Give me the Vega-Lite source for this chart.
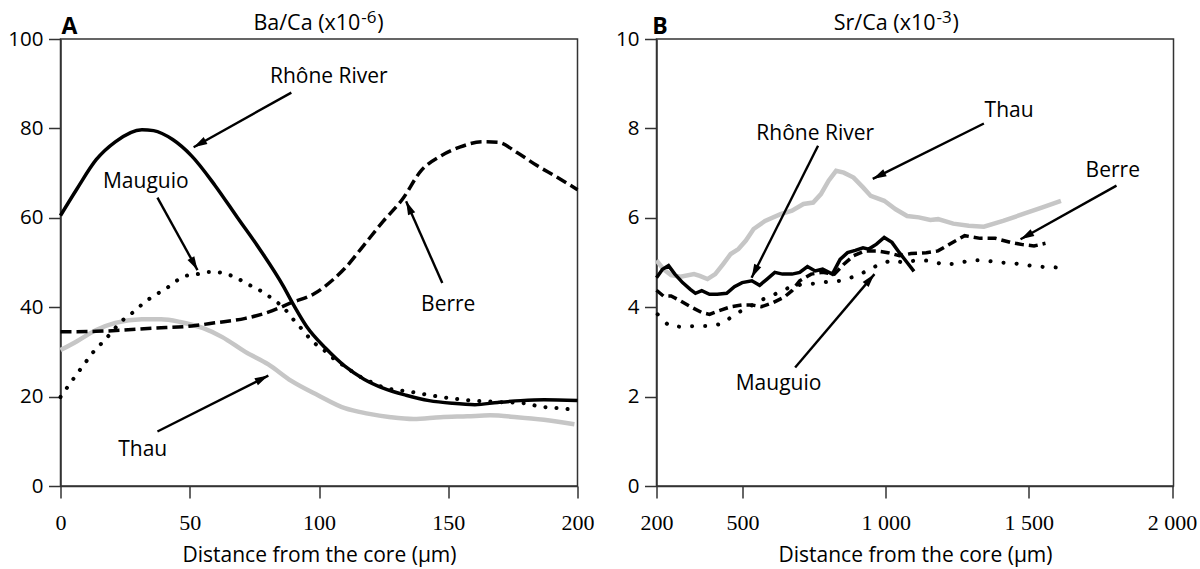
{
  "$schema": "https://vega.github.io/schema/vega-lite/v6.json",
  "padding": {"left": 6.5, "top": 8, "right": 2, "bottom": 2},
  "bounds": "flush",
  "spacing": 79,
  "datasets": {
    "ba": [
      {"series": "Rhône River", "x": 0, "y": 60.5}, {"series": "Rhône River", "x": 6.4, "y": 66.5}, {"series": "Rhône River", "x": 13.8, "y": 73}, {"series": "Rhône River", "x": 21.2, "y": 77}, {"series": "Rhône River", "x": 31.5, "y": 79.7}, {"series": "Rhône River", "x": 36, "y": 79.5}, {"series": "Rhône River", "x": 43.4, "y": 77.5}, {"series": "Rhône River", "x": 50.8, "y": 73.8}, {"series": "Rhône River", "x": 59.7, "y": 67.3}, {"series": "Rhône River", "x": 68.5, "y": 60}, {"series": "Rhône River", "x": 77.4, "y": 52.7}, {"series": "Rhône River", "x": 86.3, "y": 44.6}, {"series": "Rhône River", "x": 89.3, "y": 41.4}, {"series": "Rhône River", "x": 95.2, "y": 35.7}, {"series": "Rhône River", "x": 102.6, "y": 30.8}, {"series": "Rhône River", "x": 110, "y": 26.8}, {"series": "Rhône River", "x": 117.4, "y": 23.9}, {"series": "Rhône River", "x": 124.8, "y": 21.9}, {"series": "Rhône River", "x": 133.7, "y": 20.3}, {"series": "Rhône River", "x": 142.6, "y": 19.1}, {"series": "Rhône River", "x": 151.5, "y": 18.5}, {"series": "Rhône River", "x": 160.3, "y": 18.2}, {"series": "Rhône River", "x": 169.2, "y": 18.7}, {"series": "Rhône River", "x": 178, "y": 19.1}, {"series": "Rhône River", "x": 187, "y": 19.3}, {"series": "Rhône River", "x": 200, "y": 19.1},
      {"series": "Berre", "x": 0, "y": 34.5}, {"series": "Berre", "x": 13.8, "y": 34.6}, {"series": "Berre", "x": 36, "y": 35.3}, {"series": "Berre", "x": 50.8, "y": 35.8}, {"series": "Berre", "x": 59.7, "y": 36.5}, {"series": "Berre", "x": 71.5, "y": 37.5}, {"series": "Berre", "x": 80.4, "y": 38.9}, {"series": "Berre", "x": 89.3, "y": 41}, {"series": "Berre", "x": 98.1, "y": 43}, {"series": "Berre", "x": 105.5, "y": 46.2}, {"series": "Berre", "x": 110, "y": 48.7}, {"series": "Berre", "x": 117.4, "y": 53.9}, {"series": "Berre", "x": 124.8, "y": 59.2}, {"series": "Berre", "x": 132.2, "y": 64.1}, {"series": "Berre", "x": 139.6, "y": 70.6}, {"series": "Berre", "x": 147, "y": 73.8}, {"series": "Berre", "x": 154.4, "y": 75.8}, {"series": "Berre", "x": 163.3, "y": 77}, {"series": "Berre", "x": 169.2, "y": 76.9}, {"series": "Berre", "x": 176.6, "y": 74.6}, {"series": "Berre", "x": 184, "y": 71.8}, {"series": "Berre", "x": 191.4, "y": 69.3}, {"series": "Berre", "x": 200, "y": 66.3},
      {"series": "Mauguio", "x": 0, "y": 19.9}, {"series": "Mauguio", "x": 3.4, "y": 22.7}, {"series": "Mauguio", "x": 6.4, "y": 25.1}, {"series": "Mauguio", "x": 9.6, "y": 27.6}, {"series": "Mauguio", "x": 13, "y": 30.2}, {"series": "Mauguio", "x": 16.7, "y": 32.4}, {"series": "Mauguio", "x": 24.1, "y": 37.1}, {"series": "Mauguio", "x": 28.6, "y": 39.1}, {"series": "Mauguio", "x": 32.7, "y": 41.2}, {"series": "Mauguio", "x": 37.5, "y": 43}, {"series": "Mauguio", "x": 41.9, "y": 44.6}, {"series": "Mauguio", "x": 47.8, "y": 46.9}, {"series": "Mauguio", "x": 53, "y": 47.4}, {"series": "Mauguio", "x": 57.4, "y": 47.9}, {"series": "Mauguio", "x": 62.6, "y": 47.7}, {"series": "Mauguio", "x": 68.5, "y": 46.4}, {"series": "Mauguio", "x": 73, "y": 45}, {"series": "Mauguio", "x": 78.2, "y": 43.4}, {"series": "Mauguio", "x": 82.6, "y": 41.6}, {"series": "Mauguio", "x": 86.3, "y": 39.9}, {"series": "Mauguio", "x": 90, "y": 37.3}, {"series": "Mauguio", "x": 93.7, "y": 34.9}, {"series": "Mauguio", "x": 97.4, "y": 32.4}, {"series": "Mauguio", "x": 101.9, "y": 30.4}, {"series": "Mauguio", "x": 106.3, "y": 28.2}, {"series": "Mauguio", "x": 110.7, "y": 26.5}, {"series": "Mauguio", "x": 115.2, "y": 24.7}, {"series": "Mauguio", "x": 120, "y": 23.3}, {"series": "Mauguio", "x": 124.8, "y": 22.1}, {"series": "Mauguio", "x": 135.2, "y": 21.1}, {"series": "Mauguio", "x": 146.3, "y": 20}, {"series": "Mauguio", "x": 157.4, "y": 19.2}, {"series": "Mauguio", "x": 169.2, "y": 18.8}, {"series": "Mauguio", "x": 179.6, "y": 18.5}, {"series": "Mauguio", "x": 185.2, "y": 17.8}, {"series": "Mauguio", "x": 190.7, "y": 17.5}, {"series": "Mauguio", "x": 196.6, "y": 17.2},
      {"series": "Thau", "x": 0, "y": 30.4}, {"series": "Thau", "x": 6.4, "y": 32.4}, {"series": "Thau", "x": 13.8, "y": 34.9}, {"series": "Thau", "x": 21.2, "y": 36.5}, {"series": "Thau", "x": 31.5, "y": 37.3}, {"series": "Thau", "x": 38.9, "y": 37.3}, {"series": "Thau", "x": 46.3, "y": 36.7}, {"series": "Thau", "x": 55.2, "y": 35.3}, {"series": "Thau", "x": 62.6, "y": 33.3}, {"series": "Thau", "x": 71.5, "y": 30}, {"series": "Thau", "x": 80.4, "y": 27.2}, {"series": "Thau", "x": 89.3, "y": 23.5}, {"series": "Thau", "x": 99.6, "y": 20.3}, {"series": "Thau", "x": 110, "y": 17.4}, {"series": "Thau", "x": 118.9, "y": 16.2}, {"series": "Thau", "x": 127.8, "y": 15.4}, {"series": "Thau", "x": 136.6, "y": 15}, {"series": "Thau", "x": 147, "y": 15.4}, {"series": "Thau", "x": 157.4, "y": 15.6}, {"series": "Thau", "x": 166.2, "y": 15.8}, {"series": "Thau", "x": 176.6, "y": 15.4}, {"series": "Thau", "x": 187, "y": 14.8}, {"series": "Thau", "x": 198.8, "y": 13.8}
    ],
    "sr": [
      {"series": "Thau", "x": 200, "y": 5.05}, {"series": "Thau", "x": 224, "y": 4.85}, {"series": "Thau", "x": 251, "y": 4.72}, {"series": "Thau", "x": 284, "y": 4.68}, {"series": "Thau", "x": 331, "y": 4.74}, {"series": "Thau", "x": 351, "y": 4.7}, {"series": "Thau", "x": 378, "y": 4.63}, {"series": "Thau", "x": 405, "y": 4.74}, {"series": "Thau", "x": 432, "y": 4.96}, {"series": "Thau", "x": 459, "y": 5.19}, {"series": "Thau", "x": 486, "y": 5.3}, {"series": "Thau", "x": 512, "y": 5.49}, {"series": "Thau", "x": 539, "y": 5.75}, {"series": "Thau", "x": 579, "y": 5.93}, {"series": "Thau", "x": 633, "y": 6.08}, {"series": "Thau", "x": 673, "y": 6.16}, {"series": "Thau", "x": 713, "y": 6.31}, {"series": "Thau", "x": 747, "y": 6.34}, {"series": "Thau", "x": 774, "y": 6.53}, {"series": "Thau", "x": 801, "y": 6.83}, {"series": "Thau", "x": 827, "y": 7.05}, {"series": "Thau", "x": 854, "y": 7.01}, {"series": "Thau", "x": 888, "y": 6.9}, {"series": "Thau", "x": 921, "y": 6.68}, {"series": "Thau", "x": 948, "y": 6.49}, {"series": "Thau", "x": 995, "y": 6.38}, {"series": "Thau", "x": 1035, "y": 6.19}, {"series": "Thau", "x": 1075, "y": 6.04}, {"series": "Thau", "x": 1116, "y": 6.01}, {"series": "Thau", "x": 1156, "y": 5.95}, {"series": "Thau", "x": 1183, "y": 5.97}, {"series": "Thau", "x": 1236, "y": 5.87}, {"series": "Thau", "x": 1290, "y": 5.82}, {"series": "Thau", "x": 1343, "y": 5.8}, {"series": "Thau", "x": 1410, "y": 5.93}, {"series": "Thau", "x": 1478, "y": 6.08}, {"series": "Thau", "x": 1545, "y": 6.23}, {"series": "Thau", "x": 1612, "y": 6.38},
      {"series": "Rhône River", "x": 200, "y": 4.66}, {"series": "Rhône River", "x": 221, "y": 4.85}, {"series": "Rhône River", "x": 242, "y": 4.93}, {"series": "Rhône River", "x": 264, "y": 4.74}, {"series": "Rhône River", "x": 291, "y": 4.55}, {"series": "Rhône River", "x": 318, "y": 4.4}, {"series": "Rhône River", "x": 336, "y": 4.31}, {"series": "Rhône River", "x": 358, "y": 4.37}, {"series": "Rhône River", "x": 385, "y": 4.29}, {"series": "Rhône River", "x": 412, "y": 4.29}, {"series": "Rhône River", "x": 445, "y": 4.31}, {"series": "Rhône River", "x": 472, "y": 4.46}, {"series": "Rhône River", "x": 499, "y": 4.55}, {"series": "Rhône River", "x": 533, "y": 4.59}, {"series": "Rhône River", "x": 560, "y": 4.49}, {"series": "Rhône River", "x": 586, "y": 4.63}, {"series": "Rhône River", "x": 613, "y": 4.78}, {"series": "Rhône River", "x": 640, "y": 4.74}, {"series": "Rhône River", "x": 673, "y": 4.74}, {"series": "Rhône River", "x": 700, "y": 4.78}, {"series": "Rhône River", "x": 727, "y": 4.91}, {"series": "Rhône River", "x": 754, "y": 4.81}, {"series": "Rhône River", "x": 780, "y": 4.85}, {"series": "Rhône River", "x": 814, "y": 4.74}, {"series": "Rhône River", "x": 841, "y": 5.07}, {"series": "Rhône River", "x": 867, "y": 5.22}, {"series": "Rhône River", "x": 894, "y": 5.27}, {"series": "Rhône River", "x": 921, "y": 5.33}, {"series": "Rhône River", "x": 941, "y": 5.3}, {"series": "Rhône River", "x": 968, "y": 5.41}, {"series": "Rhône River", "x": 995, "y": 5.56}, {"series": "Rhône River", "x": 1022, "y": 5.45}, {"series": "Rhône River", "x": 1048, "y": 5.22}, {"series": "Rhône River", "x": 1075, "y": 5.0}, {"series": "Rhône River", "x": 1099, "y": 4.8},
      {"series": "Berre", "x": 200, "y": 4.38}, {"series": "Berre", "x": 224, "y": 4.25}, {"series": "Berre", "x": 251, "y": 4.25}, {"series": "Berre", "x": 284, "y": 4.14}, {"series": "Berre", "x": 325, "y": 3.99}, {"series": "Berre", "x": 358, "y": 3.88}, {"series": "Berre", "x": 385, "y": 3.84}, {"series": "Berre", "x": 418, "y": 3.92}, {"series": "Berre", "x": 459, "y": 4.01}, {"series": "Berre", "x": 499, "y": 4.05}, {"series": "Berre", "x": 533, "y": 4.05}, {"series": "Berre", "x": 566, "y": 4.01}, {"series": "Berre", "x": 606, "y": 4.1}, {"series": "Berre", "x": 647, "y": 4.23}, {"series": "Berre", "x": 673, "y": 4.37}, {"series": "Berre", "x": 700, "y": 4.59}, {"series": "Berre", "x": 740, "y": 4.74}, {"series": "Berre", "x": 780, "y": 4.78}, {"series": "Berre", "x": 821, "y": 4.74}, {"series": "Berre", "x": 854, "y": 4.96}, {"series": "Berre", "x": 888, "y": 5.15}, {"series": "Berre", "x": 928, "y": 5.26}, {"series": "Berre", "x": 968, "y": 5.26}, {"series": "Berre", "x": 1008, "y": 5.22}, {"series": "Berre", "x": 1048, "y": 5.15}, {"series": "Berre", "x": 1089, "y": 5.2}, {"series": "Berre", "x": 1142, "y": 5.22}, {"series": "Berre", "x": 1183, "y": 5.26}, {"series": "Berre", "x": 1223, "y": 5.41}, {"series": "Berre", "x": 1276, "y": 5.6}, {"series": "Berre", "x": 1330, "y": 5.54}, {"series": "Berre", "x": 1383, "y": 5.54}, {"series": "Berre", "x": 1436, "y": 5.45}, {"series": "Berre", "x": 1478, "y": 5.4}, {"series": "Berre", "x": 1518, "y": 5.37}, {"series": "Berre", "x": 1558, "y": 5.43},
      {"series": "Mauguio", "x": 204, "y": 3.84}, {"series": "Mauguio", "x": 244, "y": 3.58}, {"series": "Mauguio", "x": 291, "y": 3.56}, {"series": "Mauguio", "x": 338, "y": 3.58}, {"series": "Mauguio", "x": 385, "y": 3.58}, {"series": "Mauguio", "x": 432, "y": 3.63}, {"series": "Mauguio", "x": 472, "y": 3.84}, {"series": "Mauguio", "x": 519, "y": 3.99}, {"series": "Mauguio", "x": 566, "y": 4.16}, {"series": "Mauguio", "x": 613, "y": 4.29}, {"series": "Mauguio", "x": 660, "y": 4.43}, {"series": "Mauguio", "x": 707, "y": 4.51}, {"series": "Mauguio", "x": 754, "y": 4.53}, {"series": "Mauguio", "x": 801, "y": 4.57}, {"series": "Mauguio", "x": 841, "y": 4.59}, {"series": "Mauguio", "x": 888, "y": 4.68}, {"series": "Mauguio", "x": 935, "y": 4.81}, {"series": "Mauguio", "x": 975, "y": 4.95}, {"series": "Mauguio", "x": 1022, "y": 5.05}, {"series": "Mauguio", "x": 1062, "y": 5.0}, {"series": "Mauguio", "x": 1109, "y": 5.05}, {"series": "Mauguio", "x": 1156, "y": 5.04}, {"series": "Mauguio", "x": 1203, "y": 4.95}, {"series": "Mauguio", "x": 1250, "y": 4.98}, {"series": "Mauguio", "x": 1297, "y": 5.05}, {"series": "Mauguio", "x": 1343, "y": 5.05}, {"series": "Mauguio", "x": 1397, "y": 5.0}, {"series": "Mauguio", "x": 1451, "y": 4.98}, {"series": "Mauguio", "x": 1504, "y": 4.93}, {"series": "Mauguio", "x": 1551, "y": 4.9}, {"series": "Mauguio", "x": 1598, "y": 4.89}
    ],
    "labA": [
      {"label": "Rhône River", "x": 103.8, "y": 91.6},
      {"label": "Mauguio", "x": 33, "y": 68},
      {"label": "Berre", "x": 150, "y": 40.5},
      {"label": "Thau", "x": 31.8, "y": 8.1}
    ],
    "arrA": [
      {"x": 89.3, "y": 88, "x2": 51.5, "y2": 75.8},
      {"x": 37.5, "y": 64.5, "x2": 53, "y2": 48.3},
      {"x": 147.7, "y": 45.4, "x2": 133.7, "y2": 63.7},
      {"x": 37.5, "y": 12.2, "x2": 80.4, "y2": 24.7}
    ],
    "headA": [{"label": "A", "x": 3.5, "y": 102.6}],
    "titleA": [{"main": "Ba/Ca (x10", "sup": "-6", "close": ")", "x": 116, "y": 103.3}],
    "labB": [
      {"label": "Thau", "x": 1431, "y": 8.4},
      {"label": "Rhône River", "x": 754, "y": 7.87},
      {"label": "Berre", "x": 1793, "y": 7.05},
      {"label": "Mauguio", "x": 626, "y": 2.28}
    ],
    "arrB": [
      {"x": 1343, "y": 8.11, "x2": 955, "y2": 6.87},
      {"x": 764, "y": 7.61, "x2": 532, "y2": 4.66},
      {"x": 1806, "y": 6.72, "x2": 1471, "y2": 5.52},
      {"x": 684, "y": 2.65, "x2": 961, "y2": 4.74}
    ],
    "headB": [{"label": "B", "x": 212, "y": 10.26}],
    "titleB": [{"main": "Sr/Ca (x10", "sup": "-3", "close": ")", "x": 1174, "y": 10.33}]
  },
  "hconcat": [
    {
      "width": 517,
      "height": 447,
      "encoding": {
        "x": {"field": "x", "type": "quantitative", "title": "Distance from the core (µm)", "scale": {"domain": [0, 200], "nice": false, "zero": false}, "axis": {"values": [0, 50, 100, 150, 200]}},
        "y": {"field": "y", "type": "quantitative", "title": null, "scale": {"domain": [0, 100], "nice": false}, "axis": {"values": [0, 20, 40, 60, 80, 100]}}
      },
      "layer": [
        {"data": {"name": "ba"}, "transform": [{"filter": "datum.series === 'Thau'"}], "mark": {"type": "line", "color": "#c6c6c6", "strokeWidth": 4.5, "interpolate": "monotone"}},
        {"data": {"name": "ba"}, "transform": [{"filter": "datum.series === 'Rhône River'"}], "mark": {"type": "line", "color": "#000", "strokeWidth": 3.5, "interpolate": "monotone"}},
        {"data": {"name": "ba"}, "transform": [{"filter": "datum.series === 'Berre'"}], "mark": {"type": "line", "color": "#000", "strokeWidth": 3.5, "strokeDash": [11, 5], "interpolate": "monotone"}},
        {"data": {"name": "ba"}, "transform": [{"filter": "datum.series === 'Mauguio'"}], "mark": {"type": "line", "color": "#000", "strokeWidth": 4, "strokeDash": [0.1, 11], "strokeCap": "round", "interpolate": "monotone"}},
        {"data": {"name": "arrA"}, "mark": {"type": "rule", "color": "#000", "strokeWidth": 2.4}, "encoding": {"x2": {"field": "x2"}, "y2": {"field": "y2"}}},
        {"data": {"name": "arrA"}, "transform": [{"calculate": "atan2((datum.x2 - datum.x) * 2.585, (datum.y2 - datum.y) * 4.47) * 180 / PI", "as": "ang"}],
          "mark": {"type": "point", "shape": "M0,0L-0.6,2.1L0.6,2.1Z", "filled": true, "color": "#000", "size": 169, "opacity": 1},
          "encoding": {
            "x": {"field": "x2", "type": "quantitative", "title": "Distance from the core (µm)"},
            "y": {"field": "y2", "type": "quantitative", "title": null},
            "angle": {"field": "ang", "type": "quantitative", "scale": null}
          }},
        {"data": {"name": "labA"}, "mark": {"type": "text", "fontSize": 21, "color": "#000", "font": "Open Sans"}, "encoding": {"text": {"field": "label"}}},
        {"data": {"name": "headA"}, "mark": {"type": "text", "fontSize": 23, "fontWeight": "bold", "color": "#000", "font": "Open Sans"}, "encoding": {"text": {"field": "label"}}},
        {"data": {"name": "titleA"}, "mark": {"type": "text", "fontSize": 21.5, "align": "right", "color": "#000", "font": "Open Sans"}, "encoding": {"text": {"field": "main"}}},
        {"data": {"name": "titleA"}, "mark": {"type": "text", "fontSize": 17, "align": "left", "dx": 1, "dy": -6, "color": "#000", "font": "Open Sans"}, "encoding": {"text": {"field": "sup"}}},
        {"data": {"name": "titleA"}, "mark": {"type": "text", "fontSize": 21.5, "align": "left", "dx": 17, "color": "#000", "font": "Open Sans"}, "encoding": {"text": {"field": "close"}}}
      ]
    },
    {
      "width": 517,
      "height": 447,
      "encoding": {
        "x": {"field": "x", "type": "quantitative", "title": "Distance from the core (µm)", "scale": {"domain": [200, 2005], "nice": false, "zero": false}, "axis": {"values": [200, 500, 1000, 1500, 2000], "labelExpr": "replace(format(datum.value, ','), ',', ' ')"}},
        "y": {"field": "y", "type": "quantitative", "title": null, "scale": {"domain": [0, 10], "nice": false}, "axis": {"values": [0, 2, 4, 6, 8, 10]}}
      },
      "layer": [
        {"data": {"name": "sr"}, "transform": [{"filter": "datum.series === 'Thau'"}], "mark": {"type": "line", "color": "#c6c6c6", "strokeWidth": 4.5}},
        {"data": {"name": "sr"}, "transform": [{"filter": "datum.series === 'Rhône River'"}], "mark": {"type": "line", "color": "#000", "strokeWidth": 3.5}},
        {"data": {"name": "sr"}, "transform": [{"filter": "datum.series === 'Berre'"}], "mark": {"type": "line", "color": "#000", "strokeWidth": 3.5, "strokeDash": [9, 5]}},
        {"data": {"name": "sr"}, "transform": [{"filter": "datum.series === 'Mauguio'"}], "mark": {"type": "line", "color": "#000", "strokeWidth": 4, "strokeDash": [0.1, 13], "strokeCap": "round"}},
        {"data": {"name": "arrB"}, "mark": {"type": "rule", "color": "#000", "strokeWidth": 2.4}, "encoding": {"x2": {"field": "x2"}, "y2": {"field": "y2"}}},
        {"data": {"name": "arrB"}, "transform": [{"calculate": "atan2((datum.x2 - datum.x) * 0.2864, (datum.y2 - datum.y) * 44.7) * 180 / PI", "as": "ang"}],
          "mark": {"type": "point", "shape": "M0,0L-0.6,2.1L0.6,2.1Z", "filled": true, "color": "#000", "size": 169, "opacity": 1},
          "encoding": {
            "x": {"field": "x2", "type": "quantitative", "title": "Distance from the core (µm)"},
            "y": {"field": "y2", "type": "quantitative", "title": null},
            "angle": {"field": "ang", "type": "quantitative", "scale": null}
          }},
        {"data": {"name": "labB"}, "mark": {"type": "text", "fontSize": 21, "color": "#000", "font": "Open Sans"}, "encoding": {"text": {"field": "label"}}},
        {"data": {"name": "headB"}, "mark": {"type": "text", "fontSize": 23, "fontWeight": "bold", "color": "#000", "font": "Open Sans"}, "encoding": {"text": {"field": "label"}}},
        {"data": {"name": "titleB"}, "mark": {"type": "text", "fontSize": 21.5, "align": "right", "color": "#000", "font": "Open Sans"}, "encoding": {"text": {"field": "main"}}},
        {"data": {"name": "titleB"}, "mark": {"type": "text", "fontSize": 17, "align": "left", "dx": 1, "dy": -6, "color": "#000", "font": "Open Sans"}, "encoding": {"text": {"field": "sup"}}},
        {"data": {"name": "titleB"}, "mark": {"type": "text", "fontSize": 21.5, "align": "left", "dx": 17, "color": "#000", "font": "Open Sans"}, "encoding": {"text": {"field": "close"}}}
      ]
    }
  ],
  "config": {
    "view": {"stroke": "#333", "strokeWidth": 1.5},
    "axis": {
      "grid": false,
      "domainColor": "#333", "domainWidth": 1.5,
      "tickColor": "#333", "tickWidth": 1.5, "tickSize": 12,
      "labelColor": "#000", "titleColor": "#000",
      "labelFont": "Open Sans", "titleFont": "Open Sans", "titleFontWeight": "normal",
      "labelFontSize": 20.5, "titleFontSize": 21,
      "labelOverlap": false, "labelFlush": false
    },
    "axisX": {"labelFont": "Liberation Serif", "labelFontSize": 22, "labelPadding": 14, "titlePadding": 11},
    "axisY": {"labelPadding": 5.5}
  }
}
